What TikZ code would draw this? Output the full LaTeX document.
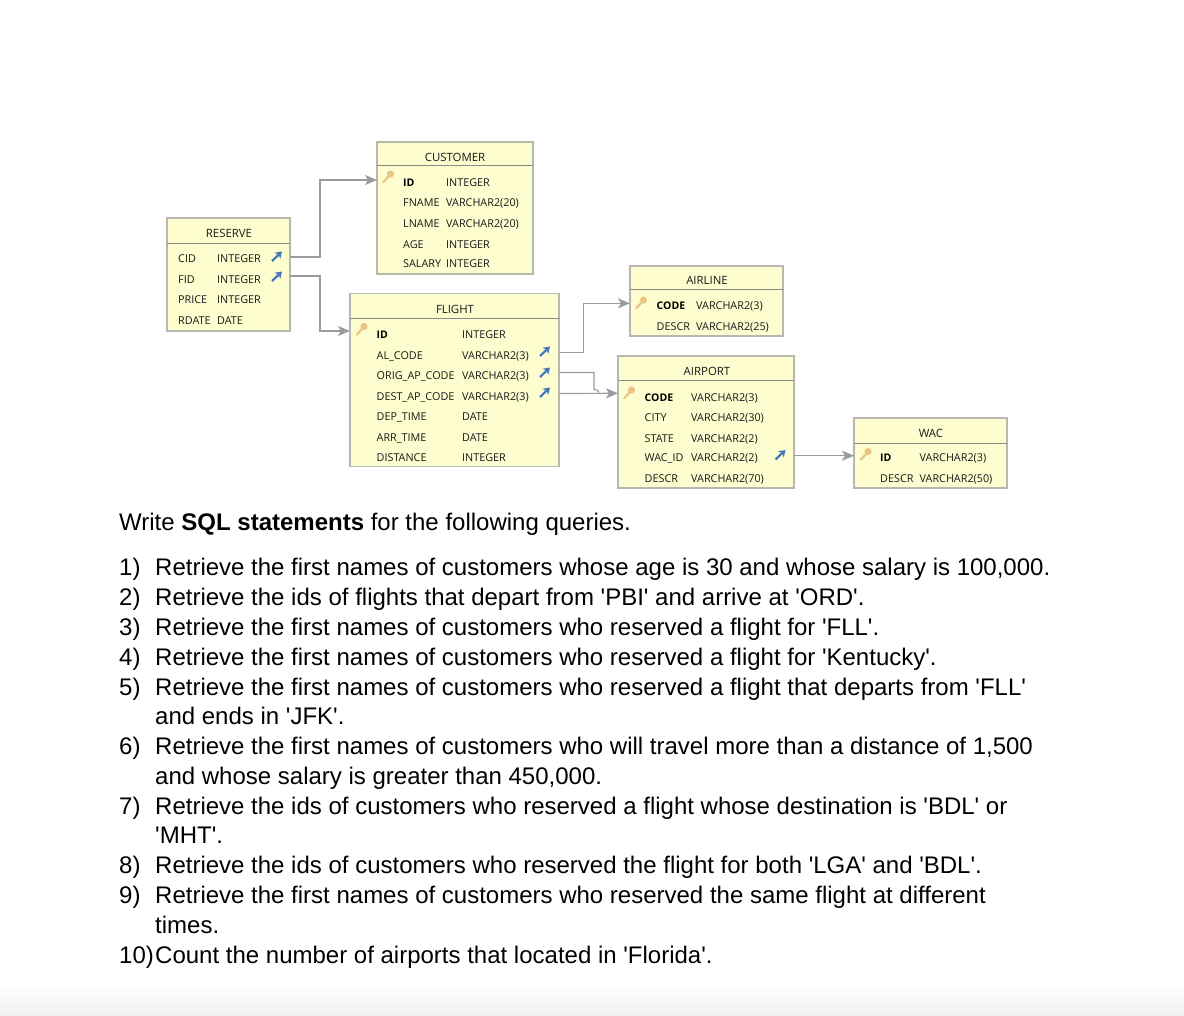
\documentclass[tikz,border=0pt]{standalone}
\usepackage{fontspec}
\usetikzlibrary{arrows.meta, positioning, calc}
\newfontfamily\bodyfont{Liberation Sans}
\newfontfamily\rowfont{Open Sans}
\definecolor{tablefill}{RGB}{253,253,207}
\definecolor{tableline}{RGB}{184,184,174}
\definecolor{connline}{RGB}{155,155,155}
\definecolor{fkblue}{RGB}{70,120,185}
\definecolor{keytan}{RGB}{236,196,130}
\newcommand{\fkmark}[2]{\draw[fkarr] ($(#1,#2)+(-5,4.5)$) -- ($(#1,#2)+(5,-5)$);}
\newcommand{\pkmark}[2]{\draw[keymark] ($(#1,#2)+(-1.5,2)$) -- ($(#1,#2)+(-7,8)$);
  \fill[keytan] (#1,#2) circle (3.6pt);}

\begin{document}
\begin{tikzpicture}[
  x=1pt, y=-1pt,
  tbl/.style={draw=tableline, fill=tablefill, line width=1.3pt, anchor=north west,
              inner sep=0pt, outer sep=0pt},
  hdr/.style={draw=tableline!75!black, line width=1pt},
  ttl/.style={font=\rowfont\fontsize{11.4}{13}\selectfont, anchor=base, inner sep=0pt, text=black!90, yshift=-0.8pt},
  cell/.style={font=\rowfont\fontsize{10.8}{13}\selectfont, anchor=base west, inner sep=0pt, text=black!90, yshift=-0.8pt},
  pk/.style={font=\rowfont\bfseries\fontsize{10.5}{13}\selectfont, anchor=base west, inner sep=0pt, text=black, yshift=-0.8pt},
  conn/.style={connline, line width=1.2pt},
  arr/.style={conn, -{Stealth[length=12pt, width=10pt, inset=3pt]}},
  fkarr/.style={-{Stealth[length=6.5pt, width=8.5pt]}, fkblue, line width=2.2pt},
  keymark/.style={keytan, line width=2.2pt, line cap=round},
  body/.style={font=\bodyfont\fontsize{24}{28}\selectfont, anchor=base west, inner sep=0pt},
]
\useasboundingbox (0,0) rectangle (1184,1016);

% grey band at the foot of the page
\shade[top color=white, bottom color=black!6, draw=none] (0,985) rectangle (1184,1016);

% Tables
\node[tbl, minimum width=156pt, minimum height=132pt] (customer) at (377,142) {};
\node[tbl, minimum width=123pt, minimum height=113pt] (reserve)  at (167,218) {};
\node[tbl, minimum width=209pt, minimum height=173pt] (flight)   at (350,293.5) {};
\node[tbl, minimum width=153pt, minimum height=70pt]  (airline)  at (630,266) {};
\node[tbl, minimum width=176pt, minimum height=132pt] (airport)  at (618,356) {};
\node[tbl, minimum width=153pt, minimum height=70pt]  (wac)      at (854,418) {};

% Titles and header rules
\foreach \tb/\ttext/\tx/\ty/\ly in {customer/CUSTOMER/455/161/166, reserve/RESERVE/229/237/244,
    flight/FLIGHT/455/313/319, airline/AIRLINE/707/284/290, airport/AIRPORT/707/375/381, wac/WAC/931/437/443}{
  \node[ttl] (\tb-title) at (\tx,\ty) {\ttext};
  \draw[hdr] (\tb.west |- 0,\ly) -- (\tb.east |- 0,\ly);
}

% CUSTOMER rows
\node[pk, name=customer-1] at (403,186) {ID};
\node[cell] at (446,186) {INTEGER};
\foreach \nm/\typ/\yy [count=\i from 2] in {FNAME/VARCHAR2(20)/206, LNAME/VARCHAR2(20)/226.5,
    AGE/INTEGER/247.5, SALARY/INTEGER/267}{
  \node[cell, name=customer-\i] at (403,\yy) {\nm};
  \node[cell] at (446,\yy) {\typ};
}

% RESERVE rows
\foreach \nm/\typ/\yy [count=\i] in {CID/INTEGER/262, FID/INTEGER/283, PRICE/INTEGER/303, RDATE/DATE/324}{
  \node[cell, name=reserve-\i] at (178,\yy) {\nm};
  \node[cell] at (217,\yy) {\typ};
}

% FLIGHT rows
\node[pk, name=flight-1] at (376.5,338) {ID};
\node[cell] at (462,338) {INTEGER};
\foreach \nm/\typ/\yy [count=\i from 2] in {AL\_CODE/VARCHAR2(3)/359, ORIG\_AP\_CODE/VARCHAR2(3)/378.5,
    DEST\_AP\_CODE/VARCHAR2(3)/399.5, DEP\_TIME/DATE/419.5, ARR\_TIME/DATE/440.5, DISTANCE/INTEGER/461}{
  \node[cell, name=flight-\i] at (376.5,\yy) {\nm};
  \node[cell] at (462,\yy) {\typ};
}

% AIRLINE rows
\node[pk, name=airline-1] at (656.5,309) {CODE};
\node[cell] at (696,309) {VARCHAR2(3)};
\node[cell, name=airline-2] at (656.5,330) {DESCR};
\node[cell] at (696,330) {VARCHAR2(25)};

% AIRPORT rows
\node[pk, name=airport-1] at (644.5,401) {CODE};
\node[cell] at (691,401) {VARCHAR2(3)};
\foreach \nm/\typ/\yy [count=\i from 2] in {CITY/VARCHAR2(30)/421, STATE/VARCHAR2(2)/441.5,
    WAC\_ID/VARCHAR2(2)/461, DESCR/VARCHAR2(70)/482}{
  \node[cell, name=airport-\i] at (644.5,\yy) {\nm};
  \node[cell] at (691,\yy) {\typ};
}

% WAC rows
\node[pk, name=wac-1] at (880,461) {ID};
\node[cell] at (919.5,461) {VARCHAR2(3)};
\node[cell, name=wac-2] at (880,482) {DESCR};
\node[cell] at (919.5,482) {VARCHAR2(50)};

% Key and foreign key marks
\pkmark{390.5}{174}
\pkmark{364}{326.5}
\pkmark{643.5}{300}
\pkmark{631.5}{390}
\pkmark{868}{451.5}
\fkmark{277}{256.5}
\fkmark{277}{276.5}
\fkmark{545}{351.5}
\fkmark{545}{372.5}
\fkmark{545}{392.5}
\fkmark{780.5}{455}

% Connectors
\draw[arr] ([yshift=5.8pt]reserve.east |- reserve-1.base) -- ++(30,0) |- ([yshift=6.8pt]customer.west |- customer-1.base);
\draw[arr] ([yshift=7.8pt]reserve.east |- reserve-2.base) -- ++(30,0) |- ([yshift=7.8pt]flight.west |- flight-1.base);
\draw[arr] ([yshift=7.5pt]flight.east |- flight-2.base) -- ++(24.5,0) |- ([yshift=6.5pt]airline.west |- airline-1.base);
\draw[conn] ([yshift=6.8pt]flight.east |- flight-3.base) -- ++(35,0) -- ++(0,17) to[out=0, in=90] ++(5,3);
\draw[arr] ([yshift=6.8pt]flight.east |- flight-4.base) -- ([yshift=8.5pt]airport.west |- airport-1.base);
\draw[arr] ([yshift=6.1pt]airport.east |- airport-4.base) -- ([yshift=6.1pt]wac.west |- wac-1.base);

% Questions
\node[body] (intro) at (119,530) {Write \textbf{SQL statements} for the following queries.};
\foreach \num/\txt/\yy [count=\i] in {
    1)/{Retrieve the first names of customers whose age is 30 and whose salary is 100,000.}/575,
    2)/{Retrieve the ids of flights that depart from 'PBI' and arrive at 'ORD'.}/605,
    3)/{Retrieve the first names of customers who reserved a flight for 'FLL'.}/635,
    4)/{Retrieve the first names of customers who reserved a flight for 'Kentucky'.}/665,
    5)/{Retrieve the first names of customers who reserved a flight that departs from 'FLL'}/695,
    /{and ends in 'JFK'.}/724,
    6)/{Retrieve the first names of customers who will travel more than a distance of 1,500}/754,
    /{and whose salary is greater than 450,000.}/784,
    7)/{Retrieve the ids of customers who reserved a flight whose destination is 'BDL' or}/814,
    /{'MHT'.}/843,
    8)/{Retrieve the ids of customers who reserved the flight for both 'LGA' and 'BDL'.}/873,
    9)/{Retrieve the first names of customers who reserved the same flight at different}/903,
    /{times.}/933,
    10)/{Count the number of airports that located in 'Florida'.}/963}{
  \node[body] (num-\i) at (119,\yy) {\num};
  \node[body] (line-\i) at (155,\yy) {\txt};
}
\end{tikzpicture}
\end{document}
